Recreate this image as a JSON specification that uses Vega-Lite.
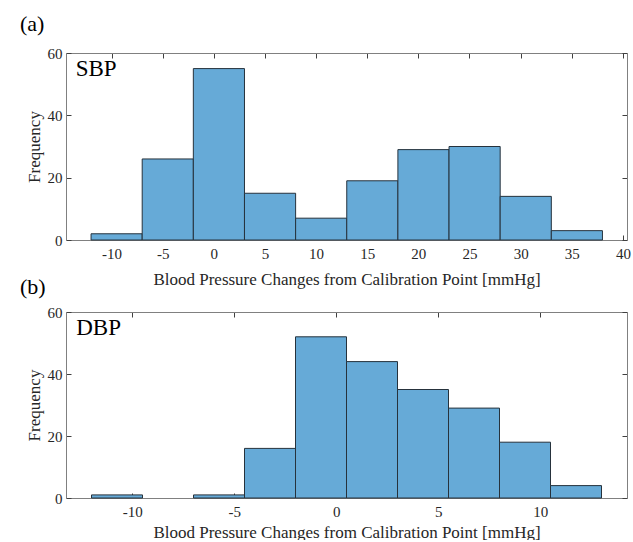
{
  "$schema": "https://vega.github.io/schema/vega-lite/v6.json",
  "background": "white",
  "padding": {"left": 20, "top": 13, "right": 5, "bottom": 0},
  "datasets": {
    "sbp": [
      {"lo": -12, "hi": -7, "count": 2},
      {"lo": -7, "hi": -2, "count": 26},
      {"lo": -2, "hi": 3, "count": 55},
      {"lo": 3, "hi": 8, "count": 15},
      {"lo": 8, "hi": 13, "count": 7},
      {"lo": 13, "hi": 18, "count": 19},
      {"lo": 18, "hi": 23, "count": 29},
      {"lo": 23, "hi": 28, "count": 30},
      {"lo": 28, "hi": 33, "count": 14},
      {"lo": 33, "hi": 38, "count": 3}
    ],
    "dbp": [
      {"lo": -12, "hi": -9.5, "count": 1},
      {"lo": -7, "hi": -4.5, "count": 1},
      {"lo": -4.5, "hi": -2, "count": 16},
      {"lo": -2, "hi": 0.5, "count": 52},
      {"lo": 0.5, "hi": 3, "count": 44},
      {"lo": 3, "hi": 5.5, "count": 35},
      {"lo": 5.5, "hi": 8, "count": 29},
      {"lo": 8, "hi": 10.5, "count": 18},
      {"lo": 10.5, "hi": 13, "count": 4}
    ]
  },
  "config": {
    "font": "Liberation Serif",
    "view": {"stroke": null},
    "axis": {
      "labelFont": "Liberation Serif",
      "labelFontSize": 15,
      "labelColor": "#262626",
      "titleFont": "Liberation Serif",
      "titleFontSize": 17,
      "titleFontWeight": "normal",
      "titleColor": "#262626",
      "domainColor": "#808080",
      "domainWidth": 1,
      "tickColor": "#404040",
      "tickWidth": 1,
      "tickSize": -5,
      "grid": false,
      "zindex": 1
    }
  },
  "spacing": -11,
  "vconcat": [
    {
      "width": 561,
      "height": 187,
      "title": {"text": "(a)", "anchor": "start", "frame": "group", "dx": -46, "fontSize": 22, "font": "Liberation Serif", "fontWeight": "normal", "color": "black", "offset": 10},
      "layer": [
        {
          "data": {"name": "sbp"},
          "mark": {"type": "bar", "fill": "#66aad7", "stroke": "#26323c", "strokeWidth": 1},
          "encoding": {
            "x": {"field": "lo", "type": "quantitative",
              "scale": {"domain": [-14.45, 40.4], "nice": false, "zero": false},
              "axis": {"orient": "bottom", "values": [-10, -5, 0, 5, 10, 15, 20, 25, 30, 35, 40], "labelExpr": "datum.value < 0 ? '-' + abs(datum.value) : '' + datum.value", "title": "Blood Pressure Changes from Calibration Point [mmHg]", "labelFont": "Liberation Serif", "labelFontSize": 15, "titleFont": "Liberation Serif", "titleFontSize": 17, "titleFontWeight": "normal", "labelPadding": 11, "titlePadding": 10}},
            "x2": {"field": "hi"},
            "y": {"field": "count", "type": "quantitative",
              "scale": {"domain": [0, 60], "nice": false},
              "axis": {"orient": "left", "values": [0, 20, 40, 60], "title": "Frequency", "labelFont": "Liberation Serif", "labelFontSize": 15, "titleFont": "Liberation Serif", "titleFontSize": 17, "titleFontWeight": "normal", "labelPadding": 9, "titlePadding": 4}},
            "y2": {"datum": 0}
          }
        },
        {
          "data": {"values": [{"label": "SBP"}]},
          "mark": {"type": "text", "align": "left", "baseline": "top", "fontSize": 23, "font": "Liberation Serif", "color": "black"},
          "encoding": {
            "text": {"field": "label"},
            "x": {"datum": -13.5, "type": "quantitative", "axis": {"orient": "top", "labels": false, "title": null, "values": [-10, -5, 0, 5, 10, 15, 20, 25, 30, 35, 40]}},
            "y": {"datum": 58.4, "type": "quantitative", "axis": {"orient": "right", "labels": false, "title": null, "values": [0, 20, 40, 60]}}
          }
        }
      ],
      "resolve": {"axis": {"x": "independent", "y": "independent"}}
    },
    {
      "width": 561,
      "height": 186,
      "title": {"text": "(b)", "anchor": "start", "frame": "group", "dx": -46, "fontSize": 22, "font": "Liberation Serif", "fontWeight": "normal", "color": "black", "offset": 6},
      "layer": [
        {
          "data": {"name": "dbp"},
          "mark": {"type": "bar", "fill": "#66aad7", "stroke": "#26323c", "strokeWidth": 1},
          "encoding": {
            "x": {"field": "lo", "type": "quantitative",
              "scale": {"domain": [-13.25, 14.25], "nice": false, "zero": false},
              "axis": {"orient": "bottom", "values": [-10, -5, 0, 5, 10], "labelExpr": "datum.value < 0 ? '-' + abs(datum.value) : '' + datum.value", "title": "Blood Pressure Changes from Calibration Point [mmHg]", "labelFont": "Liberation Serif", "labelFontSize": 15, "titleFont": "Liberation Serif", "titleFontSize": 17, "titleFontWeight": "normal", "labelPadding": 11, "titlePadding": 5}},
            "x2": {"field": "hi"},
            "y": {"field": "count", "type": "quantitative",
              "scale": {"domain": [0, 60], "nice": false},
              "axis": {"orient": "left", "values": [0, 20, 40, 60], "title": "Frequency", "labelFont": "Liberation Serif", "labelFontSize": 15, "titleFont": "Liberation Serif", "titleFontSize": 17, "titleFontWeight": "normal", "labelPadding": 9, "titlePadding": 4}},
            "y2": {"datum": 0}
          }
        },
        {
          "data": {"values": [{"label": "DBP"}]},
          "mark": {"type": "text", "align": "left", "baseline": "top", "fontSize": 23, "font": "Liberation Serif", "color": "black"},
          "encoding": {
            "text": {"field": "label"},
            "x": {"datum": -12.75, "type": "quantitative", "axis": {"orient": "top", "labels": false, "title": null, "values": [-10, -5, 0, 5, 10]}},
            "y": {"datum": 58.4, "type": "quantitative", "axis": {"orient": "right", "labels": false, "title": null, "values": [0, 20, 40, 60]}}
          }
        }
      ],
      "resolve": {"axis": {"x": "independent", "y": "independent"}}
    }
  ]
}
